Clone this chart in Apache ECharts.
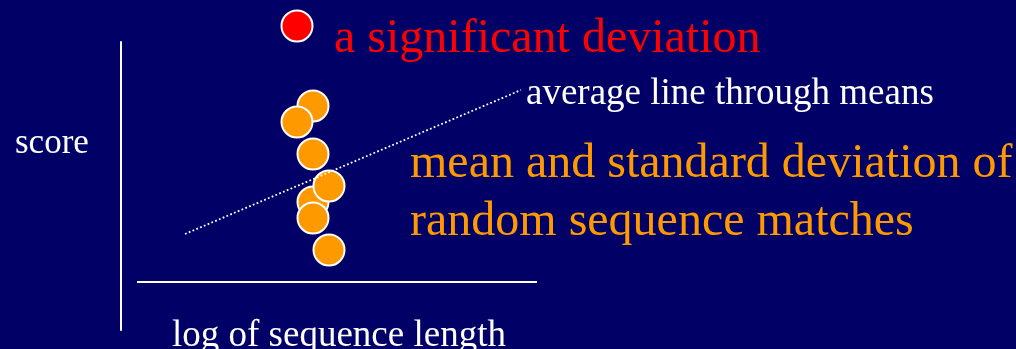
<!DOCTYPE html>
<html>
<head>
<meta charset="utf-8">
<title>score vs log of sequence length</title>
<script src="https://cdn.jsdelivr.net/npm/echarts@6/dist/echarts.min.js"></script>
<style>
  html, body { margin: 0; padding: 0; background: #000066; }
  #chart { width: 1016px; height: 349px; }
</style>
</head>
<body>
<div id="chart"></div>
<script>
// Means of random sequence matches (x: log length, y: score)
const meanX = [12, 11, 12, 12, 13, 12, 13];
const meanY = [14, 13, 11, 8, 9, 7, 5];
// One real match that lies far above the others
const outlierX = [11];
const outlierY = [19];
// Average line through the means
const trendX = [4, 25];
const trendY = [6, 15];
// Horizontal axis line
const baseX = [1, 26];
const baseY = [3, 3];

const serif = "'Liberation Serif', 'Times New Roman', serif";
const zip = (xs, ys) => xs.map((x, i) => [x, ys[i]]);

const chart = echarts.init(document.getElementById('chart'), null, { renderer: 'canvas' });
chart.setOption({
  backgroundColor: '#000066',
  animation: false,
  grid: { left: 121, right: 479, top: 42, bottom: 19 },
  xAxis: {
    type: 'value', min: 0, max: 26,
    axisLine: { show: false }, axisTick: { show: false },
    axisLabel: { show: false }, splitLine: { show: false }
  },
  yAxis: {
    type: 'value', min: 0, max: 18,
    axisLine: { show: true, lineStyle: { color: '#ffffff', width: 2 } },
    axisTick: { show: false }, axisLabel: { show: false }, splitLine: { show: false }
  },
  series: [
    {
      type: 'line', data: zip(baseX, baseY), symbol: 'none', silent: true,
      lineStyle: { color: '#ffffff', width: 2 }
    },
    {
      type: 'line', data: zip(trendX, trendY), symbol: 'none', silent: true,
      lineStyle: { color: '#ffffff', width: 1.8, type: [1.8, 2.3] }
    },
    {
      type: 'scatter', data: zip(meanX, meanY), symbolSize: 31, clip: false,
      itemStyle: { color: '#ff9900', borderColor: '#ffffff', borderWidth: 2, opacity: 1 }
    },
    {
      type: 'scatter', data: zip(outlierX, outlierY), symbolSize: 31, clip: false,
      itemStyle: { color: '#ff0000', borderColor: '#ffffff', borderWidth: 2, opacity: 1 }
    }
  ],
  graphic: [
    { type: 'text', left: 334, top: 15,
      style: { text: 'a significant deviation', fill: '#ff0000', font: '48px ' + serif } },
    { type: 'text', left: 526, top: 76,
      style: { text: 'average line through means', fill: '#ffffff', font: '37px ' + serif } },
    { type: 'text', left: 15, top: 126,
      style: { text: 'score', fill: '#ffffff', font: '35px ' + serif } },
    { type: 'text', left: 410, top: 135,
      style: { text: 'mean and standard deviation of\nrandom sequence matches', fill: '#ff9900',
               font: '48px ' + serif, lineHeight: 58 } },
    { type: 'text', left: 172, top: 318,
      style: { text: 'log of sequence length', fill: '#ffffff', font: '37px ' + serif } }
  ]
});
</script>
</body>
</html>
